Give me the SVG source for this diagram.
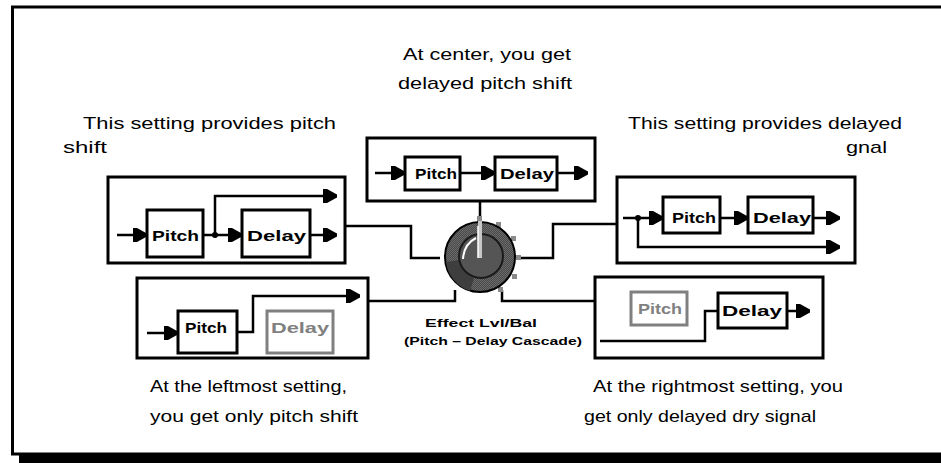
<svg xmlns="http://www.w3.org/2000/svg" xmlns:xlink="http://www.w3.org/1999/xlink" width="941" height="463" viewBox="0 0 941 463">
<style>
.ln{fill:none;stroke:#000;stroke-width:2.5}
.frame{fill:#fff;stroke:#000;stroke-width:3}
.bx{fill:#fff;stroke:#000;stroke-width:3}
.gbx{fill:#fff;stroke:#808080;stroke-width:3}
.lbl{font-family:"Liberation Sans",Arial,sans-serif;font-weight:bold;font-size:14px;fill:#000}
.glbl{font-family:"Liberation Sans",Arial,sans-serif;font-weight:bold;font-size:14px;fill:#808080}
.cap{font-family:"Liberation Sans",Arial,sans-serif;font-size:17px;fill:#000}
.klbl{font-family:"Liberation Sans",Arial,sans-serif;font-weight:bold;font-size:10px;fill:#000}
.tick{fill:#8a8a8a}
</style>
<defs>
<path id="ah" d="M-14,-7 L-10,-7 L0,-1.5 L0,1.5 L-10,7 L-14,7 Z" fill="#000"/>
<pattern id="chk" width="2" height="2" patternUnits="userSpaceOnUse">
<rect width="2" height="2" fill="#4a4a4a"/>
<rect width="1" height="1" fill="#6a6a6a"/>
<rect x="1" y="1" width="1" height="1" fill="#6a6a6a"/>
</pattern>
</defs>

<rect class="frame" x="12.5" y="7" width="940" height="447"/>
<rect x="19" y="455" width="922" height="8" fill="#000"/>

<g id="captions">
<text class="cap" x="403" y="60" textLength="168" lengthAdjust="spacingAndGlyphs">At center, you get</text>
<text class="cap" x="398" y="89" textLength="174" lengthAdjust="spacingAndGlyphs">delayed pitch shift</text>
<text class="cap" x="83" y="129" textLength="253" lengthAdjust="spacingAndGlyphs">This setting provides pitch</text>
<text class="cap" x="63" y="153" textLength="44" lengthAdjust="spacingAndGlyphs">shift</text>
<text class="cap" x="628" y="129" textLength="274" lengthAdjust="spacingAndGlyphs">This setting provides delayed</text>
<text class="cap" x="846" y="153" textLength="41" lengthAdjust="spacingAndGlyphs">gnal</text>
<text class="cap" x="150" y="392" textLength="197" lengthAdjust="spacingAndGlyphs">At the leftmost setting,</text>
<text class="cap" x="150" y="422" textLength="208" lengthAdjust="spacingAndGlyphs">you get only pitch shift</text>
<text class="cap" x="593" y="392" textLength="250" lengthAdjust="spacingAndGlyphs">At the rightmost setting, you</text>
<text class="cap" x="584" y="422" textLength="232" lengthAdjust="spacingAndGlyphs">get only delayed dry signal</text>
</g>

<g id="connectors">
<path class="ln" d="M345,226 H411 V258 H440"/>
<path class="ln" d="M480,201 V222"/>
<path class="ln" d="M617,224 H553 V258 H520"/>
<path class="ln" d="M368,301 H455 V290"/>
<path class="ln" d="M595,301 H502 V290"/>
</g>

<g id="top-box">
<rect class="bx" x="367" y="138" width="228" height="63"/>
<path class="ln" d="M375,173 H405 M460,173 H495 M557,173 H588"/>
<use xlink:href="#ah" x="405" y="173"/>
<use xlink:href="#ah" x="495" y="173"/>
<use xlink:href="#ah" x="588" y="173"/>
<rect class="bx" x="405" y="157" width="55" height="33"/>
<text class="lbl" x="415" y="179" textLength="42" lengthAdjust="spacingAndGlyphs">Pitch</text>
<rect class="bx" x="495" y="157" width="62" height="33"/>
<text class="lbl" x="500" y="179" textLength="54" lengthAdjust="spacingAndGlyphs">Delay</text>
</g>

<g id="left-box">
<rect class="bx" x="108" y="177" width="237" height="86"/>
<path class="ln" d="M117,235 H147 M203,235 H242 M215,235 V196 H337 M310,235 H337"/>
<circle cx="215" cy="235" r="3" fill="#000"/>
<use xlink:href="#ah" x="147" y="235"/>
<use xlink:href="#ah" x="242" y="235"/>
<use xlink:href="#ah" x="337" y="196"/>
<use xlink:href="#ah" x="337" y="235"/>
<rect class="bx" x="147" y="210" width="56" height="47"/>
<text class="lbl" x="152" y="241" textLength="47" lengthAdjust="spacingAndGlyphs">Pitch</text>
<rect class="bx" x="242" y="210" width="68" height="47"/>
<text class="lbl" x="247" y="241" textLength="59" lengthAdjust="spacingAndGlyphs">Delay</text>
</g>

<g id="right-box">
<rect class="bx" x="617" y="177" width="238" height="86"/>
<path class="ln" d="M623,218 H663 M638,218 V247 H840 M720,218 H748 M813,218 H840"/>
<circle cx="638" cy="218" r="3" fill="#000"/>
<use xlink:href="#ah" x="663" y="218"/>
<use xlink:href="#ah" x="748" y="218"/>
<use xlink:href="#ah" x="840" y="218"/>
<use xlink:href="#ah" x="840" y="247"/>
<rect class="bx" x="663" y="197" width="57" height="36"/>
<text class="lbl" x="672" y="223" textLength="44" lengthAdjust="spacingAndGlyphs">Pitch</text>
<rect class="bx" x="748" y="197" width="65" height="36"/>
<text class="lbl" x="753" y="223" textLength="58" lengthAdjust="spacingAndGlyphs">Delay</text>
</g>

<g id="lower-left-box">
<rect class="bx" x="137" y="278" width="231" height="80"/>
<path class="ln" d="M147,333 H178 M237,332 H253 V296 H360"/>
<use xlink:href="#ah" x="178" y="333"/>
<use xlink:href="#ah" x="360" y="296"/>
<rect class="bx" x="178" y="311" width="59" height="42"/>
<text class="lbl" x="185" y="333" textLength="42" lengthAdjust="spacingAndGlyphs">Pitch</text>
<rect class="gbx" x="267" y="311" width="66" height="42"/>
<text class="glbl" x="271" y="333" textLength="58" lengthAdjust="spacingAndGlyphs">Delay</text>
</g>

<g id="lower-right-box">
<rect class="bx" x="595" y="277" width="228" height="81"/>
<path class="ln" d="M600,341 H705 V311 H718 M787,311 H810"/>
<use xlink:href="#ah" x="810" y="311"/>
<rect class="gbx" x="631" y="292" width="56" height="33"/>
<text class="glbl" x="638" y="314" textLength="44" lengthAdjust="spacingAndGlyphs">Pitch</text>
<rect class="bx" x="718" y="293" width="69" height="35"/>
<text class="lbl" x="722" y="316" textLength="60" lengthAdjust="spacingAndGlyphs">Delay</text>
</g>

<g id="knob">
<rect class="tick" x="477" y="216" width="5" height="6"/>
<rect class="tick" x="496" y="222" width="5" height="5"/>
<rect class="tick" x="511" y="236" width="5" height="5"/>
<rect class="tick" x="516" y="255" width="5" height="5"/>
<rect class="tick" x="512" y="274" width="5" height="5"/>
<rect class="tick" x="498" y="287" width="5" height="5"/>
<circle cx="480" cy="257" r="35" fill="url(#chk)" stroke="#000" stroke-width="2"/>
<path d="M446,262 A35,35 0 0 0 470,291 L474,278 A22,22 0 0 1 459,260 Z" fill="#3e3e3e"/>
<circle cx="481" cy="256" r="22" fill="#555" stroke="#1a1a1a" stroke-width="2"/>
<path d="M463,259 Q464,244 476,238" fill="none" stroke="#fff" stroke-width="2"/>
<path d="M480,258 V221" stroke="#c8c8c8" stroke-width="4"/>
<path d="M478,258 V226" stroke="#fff" stroke-width="1.5"/>
<text class="klbl" x="425" y="327" textLength="112" lengthAdjust="spacingAndGlyphs">Effect Lvl/Bal</text>
<text class="klbl" x="404" y="345" textLength="178" lengthAdjust="spacingAndGlyphs">(Pitch – Delay Cascade)</text>
</g>
</svg>
